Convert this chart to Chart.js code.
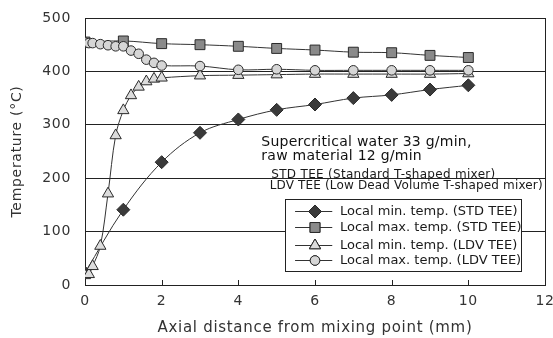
<!DOCTYPE html>
<html><head><meta charset="utf-8">
<script src="https://cdn.jsdelivr.net/npm/chart.js@4.4.1/dist/chart.umd.min.js"></script>
<style>html,body{margin:0;padding:0;background:#fff}canvas{display:block}</style>
</head><body>
<canvas id="c" width="553" height="338"></canvas>
<script>
// ---- data ----
const stdX = [0, 1, 2, 3, 4, 5, 6, 7, 8, 9, 10];
const stdMin = [23, 141, 230, 285, 310, 328, 338, 350, 356, 366, 374];
const stdMax = [455, 457, 452, 450, 447, 443, 440, 436, 435, 430, 426];
const ldvX = [0, 0.1, 0.2, 0.4, 0.6, 0.8, 1.0, 1.2, 1.4, 1.6, 1.8, 2.0, 3, 4, 5, 6, 7, 8, 9, 10];
const ldvMin = [18, 20, 35, 73, 171, 280, 327, 355, 371, 381, 386, 388, 392, 393, 394, 395, 395, 395, 395, 396];
const ldvMax = [454, 453, 453, 451, 449, 447, 447, 439, 433, 422, 416, 411, 410, 403, 404, 402, 402, 402, 402, 402];
const seriesLabels = ['Local min. temp. (STD TEE)', 'Local max. temp. (STD TEE)', 'Local min. temp. (LDV TEE)', 'Local max. temp. (LDV TEE)'];
const xTicks = [0, 2, 4, 6, 8, 10, 12];
const yTicks = [0, 100, 200, 300, 400, 500];
const xTitle = 'Axial distance from mixing point (mm)';
const yTitle = 'Temperature (°C)';
const noteLines = ['Supercritical water 33 g/min,', 'raw material 12 g/min'];
const teeLines = ['STD TEE (Standard T-shaped mixer)', 'LDV TEE (Low Dead Volume T-shaped mixer)'];

const FONT = '"DejaVu Sans", sans-serif';
const pts = (xs, ys) => xs.map((x, i) => ({x, y: ys[i]}));

const styles = [
  {pointStyle: 'rectRot', radius: 6.5, bg: '#3a3a3a', order: 3},
  {pointStyle: 'rect', radius: 7, bg: '#8a8a8a', order: 2},
  {pointStyle: 'triangle', radius: 6.5, bg: '#dcdcdc', order: 1},
  {pointStyle: 'circle', radius: 4.8, bg: '#d6d6d6', order: 0},
];
const dataArr = [pts(stdX, stdMin), pts(stdX, stdMax), pts(ldvX, ldvMin), pts(ldvX, ldvMax)];

const datasets = dataArr.map((d, i) => ({
  label: seriesLabels[i],
  data: d,
  order: styles[i].order,
  borderColor: '#333',
  borderWidth: 1,
  tension: 0.35,
  pointStyle: styles[i].pointStyle,
  pointRadius: styles[i].radius,
  pointBackgroundColor: styles[i].bg,
  pointBorderColor: '#2a2a2a',
  pointBorderWidth: 1,
}));

function textLS(ctx, text, x, y, ls) {
  ctx.letterSpacing = ls + 'px';
  ctx.fillText(text, x, y);
  ctx.letterSpacing = '0px';
}

const framePlugin = {
  id: 'frame',
  beforeDraw(chart) {
    chart.ctx.letterSpacing = '0.7px';
  },
  beforeDatasetsDraw(chart) {
    const {ctx, chartArea: a, scales} = chart;
    ctx.save();
    ctx.letterSpacing = '0px';
    ctx.strokeStyle = '#222';
    ctx.lineWidth = 1;
    ctx.strokeRect(Math.round(a.left) + 0.5, Math.round(a.top) + 0.5, Math.round(a.right - a.left), Math.round(a.bottom - a.top));
    xTicks.forEach(v => {
      const px = Math.round(scales.x.getPixelForValue(v)) + 0.5;
      ctx.beginPath(); ctx.moveTo(px, a.bottom); ctx.lineTo(px, a.bottom - 5); ctx.stroke();
    });
    ctx.restore();
  },
  afterDatasetsDraw(chart) {
    const {ctx, scales} = chart;
    const xs = scales.x, ys = scales.y;
    ctx.save();
    ctx.fillStyle = '#111';
    ctx.textBaseline = 'middle';
    ctx.textAlign = 'left';
    ctx.font = '14px ' + FONT;
    const nx = xs.getPixelForValue(4.6);
    textLS(ctx, noteLines[0], nx, ys.getPixelForValue(267), 0.25);
    textLS(ctx, noteLines[1], nx, ys.getPixelForValue(241), 0.25);
    ctx.fillStyle = '#1a1a1a';
    ctx.font = '12px ' + FONT;
    textLS(ctx, teeLines[0], xs.getPixelForValue(4.86), ys.getPixelForValue(207), 0.3);
    textLS(ctx, teeLines[1], xs.getPixelForValue(4.82), ys.getPixelForValue(186), 0.15);
    // legend box
    const bx = xs.getPixelForValue(5.23), bx2 = xs.getPixelForValue(11.38);
    const by = ys.getPixelForValue(161), by2 = ys.getPixelForValue(26);
    ctx.fillStyle = '#fff';
    ctx.fillRect(bx, by, bx2 - bx, by2 - by);
    ctx.strokeStyle = '#222';
    ctx.lineWidth = 1;
    ctx.strokeRect(Math.round(bx) + 0.5, Math.round(by) + 0.5, Math.round(bx2 - bx), Math.round(by2 - by));
    const rowY = [139, 108, 75, 47];
    ctx.font = '13px ' + FONT;
    datasets.forEach((ds, i) => {
      const y = Math.round(ys.getPixelForValue(rowY[i])) + 0.5;
      const l0 = xs.getPixelForValue(5.48), l1 = xs.getPixelForValue(6.45), m = xs.getPixelForValue(6.0);
      ctx.strokeStyle = '#333';
      ctx.beginPath(); ctx.moveTo(l0, y); ctx.lineTo(l1, y); ctx.stroke();
      ctx.fillStyle = ds.pointBackgroundColor;
      ctx.strokeStyle = '#2a2a2a';
      Chart.helpers.drawPoint(ctx, {pointStyle: ds.pointStyle, radius: ds.pointRadius, borderWidth: 1}, m, y);
      ctx.fill(); ctx.stroke();
      ctx.fillStyle = '#1a1a1a';
      textLS(ctx, ds.label, xs.getPixelForValue(6.65), y, 0);
    });
    ctx.restore();
  }
};

new Chart(document.getElementById('c'), {
  type: 'line',
  data: {datasets},
  plugins: [framePlugin],
  options: {
    responsive: false,
    animation: false,
    devicePixelRatio: 1,
    layout: {padding: {top: 18, right: 8, left: 0, bottom: 0}},
    plugins: {legend: {display: false}, tooltip: {enabled: false}},
    scales: {
      x: {
        type: 'linear', min: 0, max: 12,
        afterFit: s => { s.height = 53; s.paddingLeft = 0; s.paddingRight = 0; },
        afterBuildTicks: s => { s.ticks = xTicks.map(v => ({value: v})); },
        grid: {display: false, drawTicks: false},
        border: {display: false},
        ticks: {color: '#333', font: {family: FONT, size: 14}, padding: 8, maxRotation: 0},
        title: {display: true, text: xTitle, color: '#333', font: {family: FONT, size: 15}, padding: {top: 0, bottom: 1}}
      },
      y: {
        min: 0, max: 500,
        afterFit: s => { s.width = 85; s.paddingTop = 0; s.paddingBottom = 0; },
        afterBuildTicks: s => { s.ticks = yTicks.map(v => ({value: v})); },
        grid: {color: '#222', lineWidth: 1, drawTicks: false},
        border: {display: false},
        ticks: {color: '#333', font: {family: FONT, size: 14}, padding: 14},
        title: {display: true, text: yTitle, color: '#333', font: {family: FONT, size: 14}, padding: {top: 9, bottom: 0}}
      }
    }
  }
});
</script>
</body></html>
